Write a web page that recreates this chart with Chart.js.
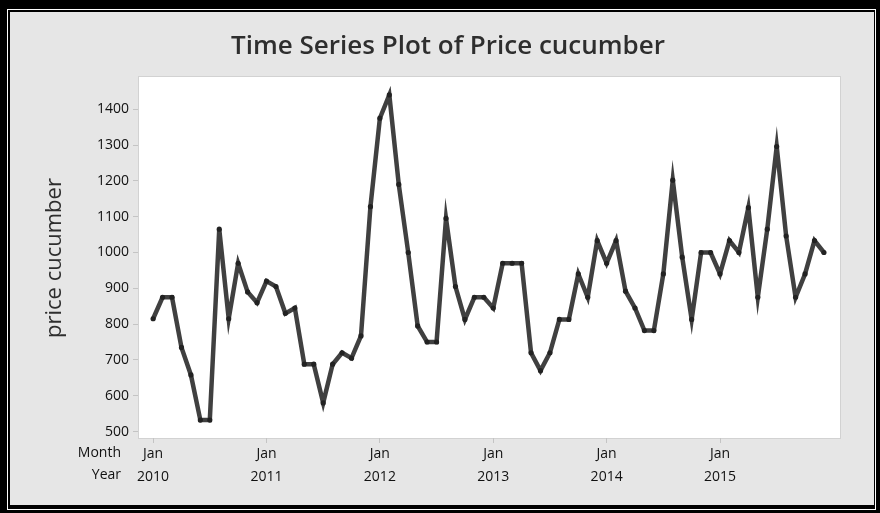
<!DOCTYPE html>
<html>
<head>
<meta charset="utf-8">
<script src="https://cdn.jsdelivr.net/npm/chart.js@4.4.1/dist/chart.umd.min.js"></script>
<style>
  html, body { margin: 0; padding: 0; background: #000; }
  #wrap { width: 880px; height: 513px; }
</style>
</head>
<body>
<div id="wrap"><canvas id="ts" width="880" height="513"></canvas></div>
<script>
/* Time series of monthly cucumber price, Jan 2010 – Dec 2015 */

const yearLabels = ['2010', '2011', '2012', '2013', '2014', '2015'];
const janTicks = [0, 12, 24, 36, 48, 60];          // month index of each January
const yTicks = [500, 600, 700, 800, 900, 1000, 1100, 1200, 1300, 1400];

const priceCucumber = [
  815, 875, 875, 735, 658, 532, 532, 1065, 815, 970, 890, 860,      // 2010
  920, 905, 830, 845, 688, 688, 580, 688, 720, 705, 767, 1128,      // 2011
  1375, 1440, 1190, 1000, 795, 750, 750, 1095, 905, 813, 875, 875,  // 2012
  845, 970, 970, 970, 720, 670, 720, 813, 813, 940, 875, 1033,      // 2013
  970, 1033, 892, 845, 782, 782, 940, 1202, 987, 813, 1000, 1000,   // 2014
  940, 1033, 1000, 1125, 875, 1065, 1296, 1046, 875, 940, 1033, 1000 // 2015
];

const FONT = "'Open Sans', 'Noto Sans', sans-serif";
const PANEL = '#e6e6e6';

// frame, panel and plot background + free-standing texts
const minitabFrame = {
  id: 'minitabFrame',
  beforeDraw(chart) {
    const { ctx, chartArea: a, width, height } = chart;
    ctx.save();
    ctx.fillStyle = '#000';
    ctx.fillRect(0, 0, width, height);
    ctx.strokeStyle = '#fff';
    ctx.lineWidth = 1;
    ctx.strokeRect(7.5, 9.5, width - 12, height - 13);
    ctx.fillStyle = PANEL;
    ctx.fillRect(10, 12, width - 16, height - 20);
    ctx.fillStyle = '#fff';
    ctx.fillRect(a.left, a.top, a.right - a.left, a.bottom - a.top);
    ctx.strokeStyle = '#d2d2d2';
    ctx.strokeRect(a.left + 0.5, a.top - 0.5, a.right - a.left, a.bottom - a.top + 1);
    ctx.restore();
  },
  afterDraw(chart) {
    const { ctx } = chart;
    ctx.save();
    ctx.fillStyle = '#2e2e2e';
    ctx.textAlign = 'center';
    ctx.textBaseline = 'middle';
    ctx.font = '600 26px ' + FONT;
    ctx.fillText('Time Series Plot of Price cucumber', 448, 47);

    ctx.translate(55, 258);
    ctx.rotate(-Math.PI / 2);
    ctx.font = '22px ' + FONT;
    ctx.fillText('price cucumber', 0, 0);
    ctx.restore();

    ctx.save();
    ctx.fillStyle = '#111';
    ctx.font = '14px ' + FONT;
    ctx.textAlign = 'right';
    ctx.textBaseline = 'middle';
    ctx.fillText('Month', 121, 453);
    ctx.fillText('Year', 121, 475);
    ctx.restore();
  }
};

new Chart(document.getElementById('ts'), {
  type: 'line',
  data: {
    datasets: [{
      label: 'price cucumber',
      data: priceCucumber.map((v, i) => ({ x: i, y: v })),
      borderColor: '#404040',
      borderWidth: 4.5,
      borderJoinStyle: 'miter',
      pointRadius: 2.6,
      pointBackgroundColor: '#222',
      pointBorderWidth: 0,
      tension: 0,
      fill: false,
    }]
  },
  options: {
    responsive: false,
    animation: false,
    layout: { padding: { left: 0, right: 40, top: 77, bottom: 0 } },
    plugins: { legend: { display: false }, tooltip: { enabled: false }, title: { display: false } },
    scales: {
      x: {
        type: 'linear',
        min: -1.6,
        max: 72.7,
        afterBuildTicks: (axis) => { axis.ticks = janTicks.map(v => ({ value: v })); },
        afterFit: (axis) => { axis.height = 75; },
        ticks: {
          autoSkip: false,
          maxRotation: 0,
          padding: 0,
          color: '#111',
          font: { family: FONT, size: 14, lineHeight: 1.6 },
          callback: (v) => ['Jan', yearLabels[janTicks.indexOf(v)]],
        },
        grid: { drawOnChartArea: false, tickLength: 5, color: '#c4c4c4' },
        border: { display: false },
      },
      y: {
        min: 482,
        max: 1490,
        afterBuildTicks: (axis) => { axis.ticks = yTicks.map(v => ({ value: v })); },
        afterFit: (axis) => { axis.width = 138; },
        ticks: {
          padding: 4,
          color: '#111',
          font: { family: FONT, size: 14 },
          callback: (v) => String(v),
        },
        grid: { drawOnChartArea: false, tickLength: 5, color: '#c4c4c4' },
        border: { display: false },
      }
    }
  },
  plugins: [minitabFrame]
});
</script>
</body>
</html>
